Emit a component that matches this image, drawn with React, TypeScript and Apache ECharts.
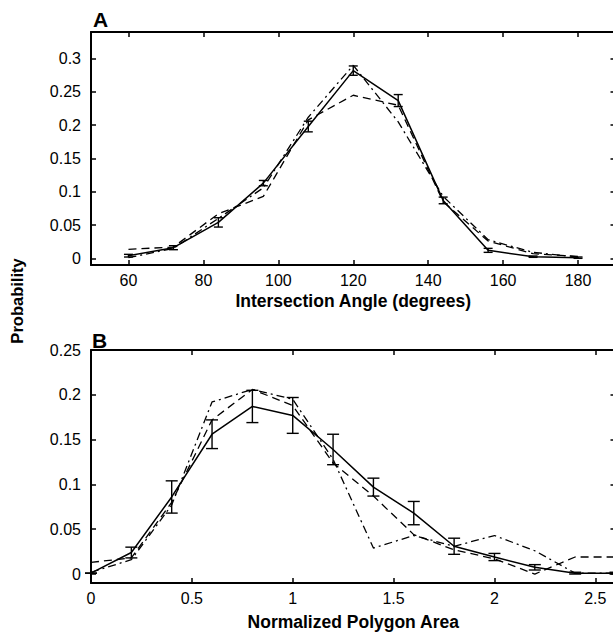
import React, { useEffect, useRef } from "react";
import * as echarts from "echarts";

// Panel A: intersection angle
const anglesA = [60, 72, 84, 96, 108, 120, 132, 144, 156, 168, 180];
const solidA = [0.004, 0.016, 0.054, 0.113, 0.198, 0.282, 0.237, 0.087, 0.012, 0.0025, 0.001];
const errA = [0.002, 0.003, 0.007, 0.004, 0.008, 0.007, 0.009, 0.005, 0.003, 0.001, 0.001];
const dashedA = [0.0135, 0.017, 0.067, 0.093, 0.208, 0.245, 0.23, 0.085, 0.026, 0.007, 0.003];
const dashdotA = [0.001, 0.015, 0.06, 0.106, 0.212, 0.29, 0.205, 0.093, 0.028, 0.009, 0.002];
const xTicksA = [60, 80, 100, 120, 140, 160, 180];
const yTicksA = [0, 0.05, 0.1, 0.15, 0.2, 0.25, 0.3];

// Panel B: normalized polygon area
const areasB = [0, 0.2, 0.4, 0.6, 0.8, 1.0, 1.2, 1.4, 1.6, 1.8, 2.0, 2.2, 2.4, 2.6];
const solidB = [0.001, 0.024, 0.086, 0.156, 0.187, 0.177, 0.139, 0.097, 0.068, 0.031, 0.019, 0.0075, 0.001, 0.001];
const errB = [0, 0.006, 0.018, 0.016, 0.018, 0.02, 0.017, 0.01, 0.013, 0.009, 0.004, 0.003, 0.001, 0.001];
const dashedB = [0.013, 0.018, 0.08, 0.172, 0.206, 0.188, 0.124, 0.087, 0.044, 0.027, 0.017, 0.0, 0.019, 0.019];
const dashdotB = [0.002, 0.016, 0.077, 0.192, 0.206, 0.195, 0.128, 0.029, 0.043, 0.031, 0.043, 0.026, 0.001, 0.001];
const xTicksB = [0, 0.5, 1, 1.5, 2, 2.5];
const yTicksB = [0, 0.05, 0.1, 0.15, 0.2, 0.25];

const FONT = "'Liberation Sans', Arial, Helvetica, sans-serif";

export default function App() {
  const ref = useRef<HTMLDivElement>(null);
  useEffect(() => {
    if (!ref.current) return;
    const chart = echarts.init(ref.current, undefined, { renderer: "svg" });

    const pairs = (xs: number[], ys: number[]) => xs.map((x, i) => [x, ys[i]]);
    const errData = (xs: number[], ys: number[], es: number[]) =>
      xs.map((x, i) => [x, ys[i] - es[i], ys[i] + es[i]]);

    const axisLine = { show: true, onZero: false, lineStyle: { color: "#000", width: 2 } };
    const tickStyle = { color: "#000", width: 1.5 };

    const makeX = (grid: number, min: number, max: number, ticks: number[], name: string, gap: number) => [
      {
        type: "value", gridIndex: grid, min, max, position: "bottom",
        name, nameLocation: "middle", nameGap: gap,
        nameTextStyle: { color: "#000", fontSize: 17.5, fontWeight: "bold", fontFamily: FONT },
        axisLine,
        axisTick: { show: true, inside: true, length: 5, lineStyle: tickStyle, customValues: ticks },
        axisLabel: { show: true, color: "#000", fontSize: 16, fontFamily: FONT, margin: 7, customValues: ticks },
        splitLine: { show: false },
      },
      {
        type: "value", gridIndex: grid, min, max, position: "top",
        axisLine,
        axisTick: { show: true, inside: true, length: 5, lineStyle: tickStyle, customValues: ticks },
        axisLabel: { show: false },
        splitLine: { show: false },
      },
    ];
    const makeY = (grid: number, min: number, max: number, ticks: number[]) => [
      {
        type: "value", gridIndex: grid, min, max, position: "left",
        axisLine,
        axisTick: { show: true, inside: true, length: 5, lineStyle: tickStyle, customValues: ticks },
        axisLabel: { show: true, color: "#000", fontSize: 16, fontFamily: FONT, margin: 10, customValues: ticks },
        splitLine: { show: false },
      },
      {
        type: "value", gridIndex: grid, min, max, position: "right",
        axisLine,
        axisTick: { show: true, inside: true, length: 5, lineStyle: tickStyle, customValues: ticks },
        axisLabel: { show: false },
        splitLine: { show: false },
      },
    ];

    const lineSeries = (xi: number, yi: number, data: number[][], type: any, width = 1.3) => ({
      type: "line", xAxisIndex: xi, yAxisIndex: yi, data, symbol: "none", silent: true,
      lineStyle: { color: "#000", width, type },
      z: 3,
    });

    const errSeries = (xi: number, yi: number, data: number[][], cap: number) => ({
      type: "custom", xAxisIndex: xi, yAxisIndex: yi, data, silent: true, z: 5,
      encode: { x: 0, y: [1, 2] },
      renderItem: (_params: any, api: any) => {
        const x = api.value(0);
        const lo = api.coord([x, api.value(1)]);
        const hi = api.coord([x, api.value(2)]);
        const st = { stroke: "#000", lineWidth: 1.4 };
        const h = cap / 2;
        return {
          type: "group",
          children: [
            { type: "line", shape: { x1: lo[0], y1: lo[1], x2: hi[0], y2: hi[1] }, style: st },
            { type: "line", shape: { x1: lo[0] - h, y1: lo[1], x2: lo[0] + h, y2: lo[1] }, style: st },
            { type: "line", shape: { x1: hi[0] - h, y1: hi[1], x2: hi[0] + h, y2: hi[1] }, style: st },
          ],
        };
      },
    });

    const gw = 524.5;
    const option: any = {
      animation: false,
      backgroundColor: "#fff",
      grid: [
        { left: 91, top: 32, width: gw, height: 233 },
        { left: 91, top: 350, width: gw, height: 233 },
      ],
      xAxis: [
        ...makeX(0, 50, 190, xTicksA, "Intersection Angle (degrees)", 27),
        ...makeX(1, 0, 2.6, xTicksB, "Normalized Polygon Area", 30),
      ],
      yAxis: [
        ...makeY(0, -0.01, 0.34, yTicksA),
        ...makeY(1, -0.01, 0.25, yTicksB),
      ],
      series: [
        lineSeries(0, 0, pairs(anglesA, dashedA), [8, 5]),
        lineSeries(0, 0, pairs(anglesA, dashdotA), [8, 4, 2, 4]),
        lineSeries(0, 0, pairs(anglesA, solidA), "solid", 1.5),
        errSeries(0, 0, errData(anglesA, solidA, errA), 9),
        lineSeries(2, 2, pairs(areasB, dashedB), [8, 5]),
        lineSeries(2, 2, pairs(areasB, dashdotB), [8, 4, 2, 4]),
        lineSeries(2, 2, pairs(areasB, solidB), "solid", 1.5),
        errSeries(2, 2, errData(areasB, solidB, errB), 12),
      ],
      graphic: [
        { type: "text", left: 93, top: 9, style: { text: "A", fontSize: 21, fontWeight: "bold", fontFamily: FONT, fill: "#000" } },
        { type: "text", left: 92, top: 330, style: { text: "B", fontSize: 21, fontWeight: "bold", fontFamily: FONT, fill: "#000" } },
        {
          type: "text", x: 17, y: 301, rotation: Math.PI / 2,
          style: { text: "Probability", fontSize: 16.5, fontWeight: "bold", fontFamily: FONT, fill: "#000", align: "center", verticalAlign: "middle" },
        },
      ],
    };
    chart.setOption(option);
    return () => chart.dispose();
  }, []);

  return (
    <div style={{ position: "absolute", left: 0, top: 0, width: 613, height: 634, overflow: "hidden", background: "#fff" }}>
      <div ref={ref} style={{ width: 620, height: 634 }} />
    </div>
  );
}
